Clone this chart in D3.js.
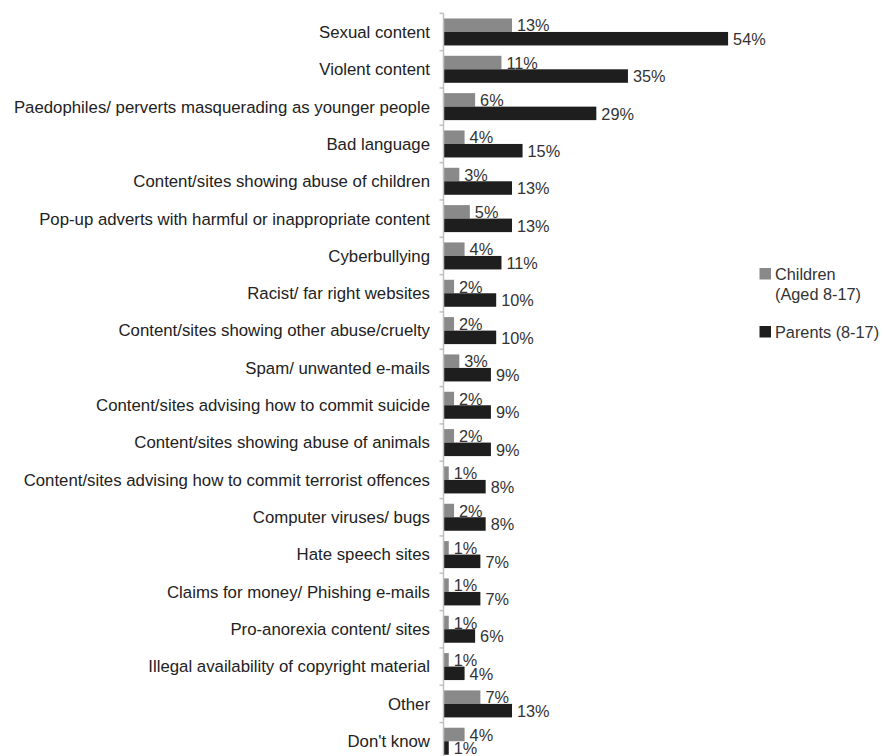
<!DOCTYPE html>
<html><head><meta charset="utf-8">
<script src="https://cdn.jsdelivr.net/npm/d3@7"></script>
<style>body{margin:0;background:#fff;} svg{display:block;font-family:"Liberation Sans",Arial,sans-serif;}</style>
</head><body><svg id="c" width="883" height="756"></svg>
<script>
const categories = ["Sexual content","Violent content","Paedophiles/ perverts masquerading as younger people","Bad language","Content/sites showing abuse of children","Pop-up adverts with harmful or inappropriate content","Cyberbullying","Racist/ far right websites","Content/sites showing other abuse/cruelty","Spam/ unwanted e-mails","Content/sites advising how to commit suicide","Content/sites showing abuse of animals","Content/sites advising how to commit terrorist offences","Computer viruses/ bugs","Hate speech sites","Claims for money/ Phishing e-mails","Pro-anorexia content/ sites","Illegal availability of copyright material","Other","Don't know"];
const children = [13,11,6,4,3,5,4,2,2,3,2,2,1,2,1,1,1,1,7,4];
const parents = [54,35,29,15,13,13,11,10,10,9,9,9,8,8,7,7,6,4,13,1];
const seriesNames = ["Children\n(Aged 8-17)","Parents (8-17)"];
const colors = ["#898989","#1e1e1e"];

const svg = d3.select("#c");
const axisX = 443.5;
const fs = 16.3;
const fsCat = 16.8;
const x = d3.scaleLinear().domain([0,60]).range([axisX, axisX + 60*5.27]);
const y = d3.scaleBand().domain(categories).range([13.3, 13.3 + 20*37.33]);
const bh = 13.5;

// bars
const g = svg.append("g");
categories.forEach((c,i)=>{
  const cy = y(c) + y.bandwidth()/2;
  [children[i], parents[i]].forEach((v,k)=>{
    const y0 = k===0 ? cy - bh : cy;
    g.append("rect").attr("x", x(0)).attr("y", y0).attr("width", x(v)-x(0)).attr("height", bh).attr("fill", colors[k]);
    g.append("text").attr("x", x(v)+5).attr("y", y0+bh-0.5)
      .attr("font-size", fs).attr("fill","#333").text(v+"%");
  });
});

// axis
const ax = d3.axisLeft(y).tickSize(0).tickPadding(13.5);
const ag = svg.append("g").attr("transform",`translate(${axisX},0)`).call(ax);
ag.select(".domain").remove();
ag.selectAll("text").attr("font-size",fsCat).attr("fill","#222").attr("dy","0.35em").attr("font-family","Liberation Sans, Arial, sans-serif");
svg.append("line").attr("x1",axisX).attr("x2",axisX).attr("y1",y.range()[0]).attr("y2",y.range()[1]).attr("stroke","#c0c0c0").attr("stroke-width",1.5);
const bounds = categories.map(c=>y(c)).concat([y.range()[1]]);
svg.selectAll("line.tk").data(bounds).enter().append("line").attr("class","tk")
  .attr("x1",axisX-4).attr("x2",axisX).attr("y1",d=>d).attr("y2",d=>d).attr("stroke","#c0c0c0").attr("stroke-width",1.5);

// legend
const lg = svg.append("g");
const ly = [280, 338];
seriesNames.forEach((s,k)=>{
  lg.append("rect").attr("x",759.5).attr("y",ly[k]-12).attr("width",11.5).attr("height",11.5).attr("fill",colors[k]);
  s.split("\n").forEach((t,j)=>{
    lg.append("text").attr("x",775).attr("y",ly[k]+j*20).attr("font-size",fs).attr("fill","#333").text(t);
  });
});
</script></body></html>
